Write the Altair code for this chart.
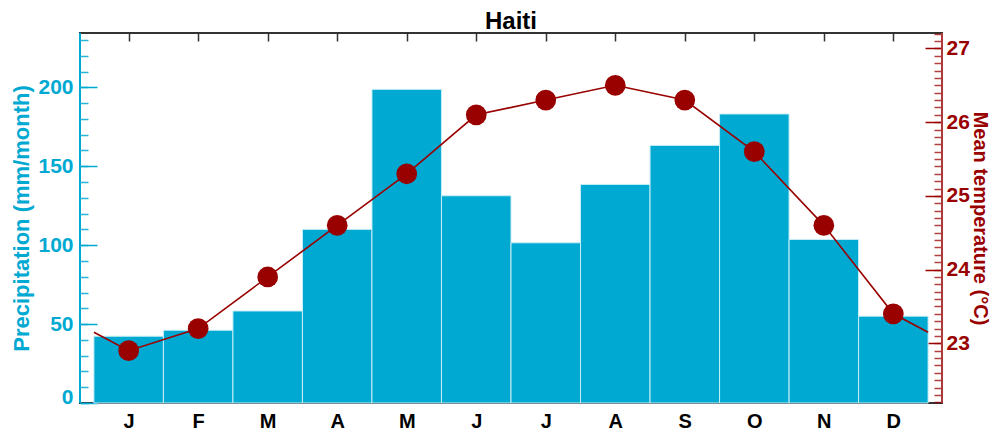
import json
import altair as alt
import pandas as pd

# ---------------- data ----------------
MONTHS = ["J", "F", "M", "A", "M", "J", "J", "A", "S", "O", "N", "D"]
PRECIP = [42.3, 46.1, 58.3, 110.0, 198.7, 131.3, 101.5, 138.5, 163.2, 183.1, 103.6, 55.0]
TEMP = [22.9, 23.2, 23.9, 24.6, 25.3, 26.1, 26.3, 26.5, 26.3, 25.6, 24.6, 23.4]
# temperature where the line meets the outer edges of the first / last bar
TEMP_EDGES = [23.15, 23.15]

PRECIP_DOMAIN = [0, 234.4]
TEMP_DOMAIN = [22.19, 27.21]
X_DOMAIN = [-0.7, 11.7]

PRECIP_MAJOR = [0, 50, 100, 150, 200]
PRECIP_MINOR = list(range(0, 240, 10))
TEMP_MAJOR = [23, 24, 25, 26, 27]
TEMP_MINOR = [round(22.2 + 0.1 * k, 1) for k in range(51)]

BLUE = "#00A9D2"
RED = "#990000"
DARK = "#333333"
FONT = "Liberation Sans"

idx = list(range(len(MONTHS)))
df = pd.DataFrame({"i": idx, "month": MONTHS, "precip": PRECIP, "temp": TEMP})
line_df = pd.DataFrame({
    "x": [idx[0] - 0.5] + idx + [idx[-1] + 0.5],
    "t": [TEMP_EDGES[0]] + TEMP + [TEMP_EDGES[1]],
})
frame_df = pd.DataFrame({"xl": [X_DOMAIN[0]], "xr": [X_DOMAIN[1]]})

x_scale = alt.Scale(domain=X_DOMAIN, nice=False, zero=False)
p_scale = alt.Scale(domain=PRECIP_DOMAIN, nice=False, zero=False)
t_scale = alt.Scale(domain=TEMP_DOMAIN, nice=False, zero=False)

month_expr = json.dumps(MONTHS) + "[datum.value]"

# ---------------- precipitation bars + major left axis + bottom axis ----------------
bars = alt.Chart(df).transform_calculate(
    x0="datum.i - 0.5", x1="datum.i + 0.5"
).mark_bar(color=BLUE, stroke="#c9eef7", strokeWidth=1).encode(
    x=alt.X("x0:Q", scale=x_scale, axis=alt.Axis(
        orient="bottom", values=idx, labelExpr=month_expr, domain=False,
        tickSize=7, offset=-7, tickColor=DARK, tickWidth=1.5, grid=False,
        labelFont=FONT, labelFontSize=20, labelFontWeight="bold", labelColor="black",
        labelPadding=8, title=None)),
    x2="x1:Q",
    y=alt.Y("precip:Q", scale=p_scale, axis=alt.Axis(
        orient="left", values=PRECIP_MAJOR, domain=False, grid=False,
        tickSize=17, offset=-17, tickColor=BLUE, tickWidth=1.5,
        labelFont=FONT, labelFontSize=21, labelFontWeight="bold", labelColor=BLUE,
        labelPadding=7,
        labelOffset={"condition": {"test": "datum.value === 0", "value": -6}, "value": 0},
        title="Precipitation (mm/month)", titleFont=FONT, titleFontSize=22,
        titleFontWeight="bold", titleColor=BLUE, titlePadding=4)),
    y2=alt.datum(0),
)

# ---------------- minor left ticks + top ticks ----------------
minor_left = alt.Chart(df).transform_calculate(
    x0="datum.i - 0.5", x1="datum.i + 0.5"
).mark_bar(opacity=0).encode(
    x=alt.X("x0:Q", scale=x_scale, axis=alt.Axis(
        orient="top", values=idx, labels=False, domain=False, grid=False,
        tickSize=8, offset=-8, tickColor=DARK, tickWidth=1.5, title=None)),
    x2="x1:Q",
    y=alt.Y("precip:Q", scale=p_scale, axis=alt.Axis(
        orient="left", values=PRECIP_MINOR, labels=False, domain=False, grid=False,
        tickSize=8, offset=-8, tickColor=BLUE, tickOpacity=0.85, tickWidth=1.5, title=None)),
    y2=alt.datum(0),
)

# ---------------- temperature line + major right axis ----------------
line = alt.Chart(line_df).mark_line(color=RED, strokeWidth=1.6).encode(
    x=alt.X("x:Q", scale=x_scale, axis=None),
    y=alt.Y("t:Q", scale=t_scale, axis=alt.Axis(
        orient="right", values=TEMP_MAJOR, domain=False, grid=False,
        tickSize=17, offset=-17, tickColor=RED, tickWidth=1.5,
        labelFont=FONT, labelFontSize=21, labelFontWeight="bold", labelColor=RED,
        labelPadding=4,
        title="Mean temperature (°C)", titleFont=FONT, titleFontSize=20,
        titleFontWeight="bold", titleColor=RED, titlePadding=0)),
)

# ---------------- temperature points + minor right ticks ----------------
points = alt.Chart(df).mark_circle(color=RED, size=430, opacity=1).encode(
    x=alt.X("i:Q", scale=x_scale, axis=None),
    y=alt.Y("temp:Q", scale=t_scale, axis=alt.Axis(
        orient="right", values=TEMP_MINOR, labels=False, domain=False, grid=False,
        tickSize=8, offset=-8, tickColor=RED, tickOpacity=0.75, tickWidth=1.5, title=None)),
)

# ---------------- coloured side frame lines ----------------
left_edge = alt.Chart(frame_df).mark_rule(color=BLUE, strokeWidth=2).encode(
    x=alt.X("xl:Q", scale=x_scale, axis=None))
right_edge = alt.Chart(frame_df).mark_rule(color="#b03a3a", strokeWidth=2).encode(
    x=alt.X("xr:Q", scale=x_scale, axis=None))

chart = alt.layer(
    bars, minor_left, line, points, left_edge, right_edge
).resolve_scale(
    y="independent"
).resolve_axis(
    y="independent", x="independent"
).properties(
    width=862, height=370,
    title=alt.TitleParams("Haiti", font=FONT, fontSize=24, fontWeight="bold",
                          color="black", anchor="middle", offset=-2),
    autosize=alt.AutoSizeParams(type="none"),
    padding={"left": 72, "top": 25, "right": 50, "bottom": 31},
).configure_view(
    stroke=DARK, strokeWidth=2
)

chart.save("out.html", embed_options={"renderer": "svg", "actions": False})
